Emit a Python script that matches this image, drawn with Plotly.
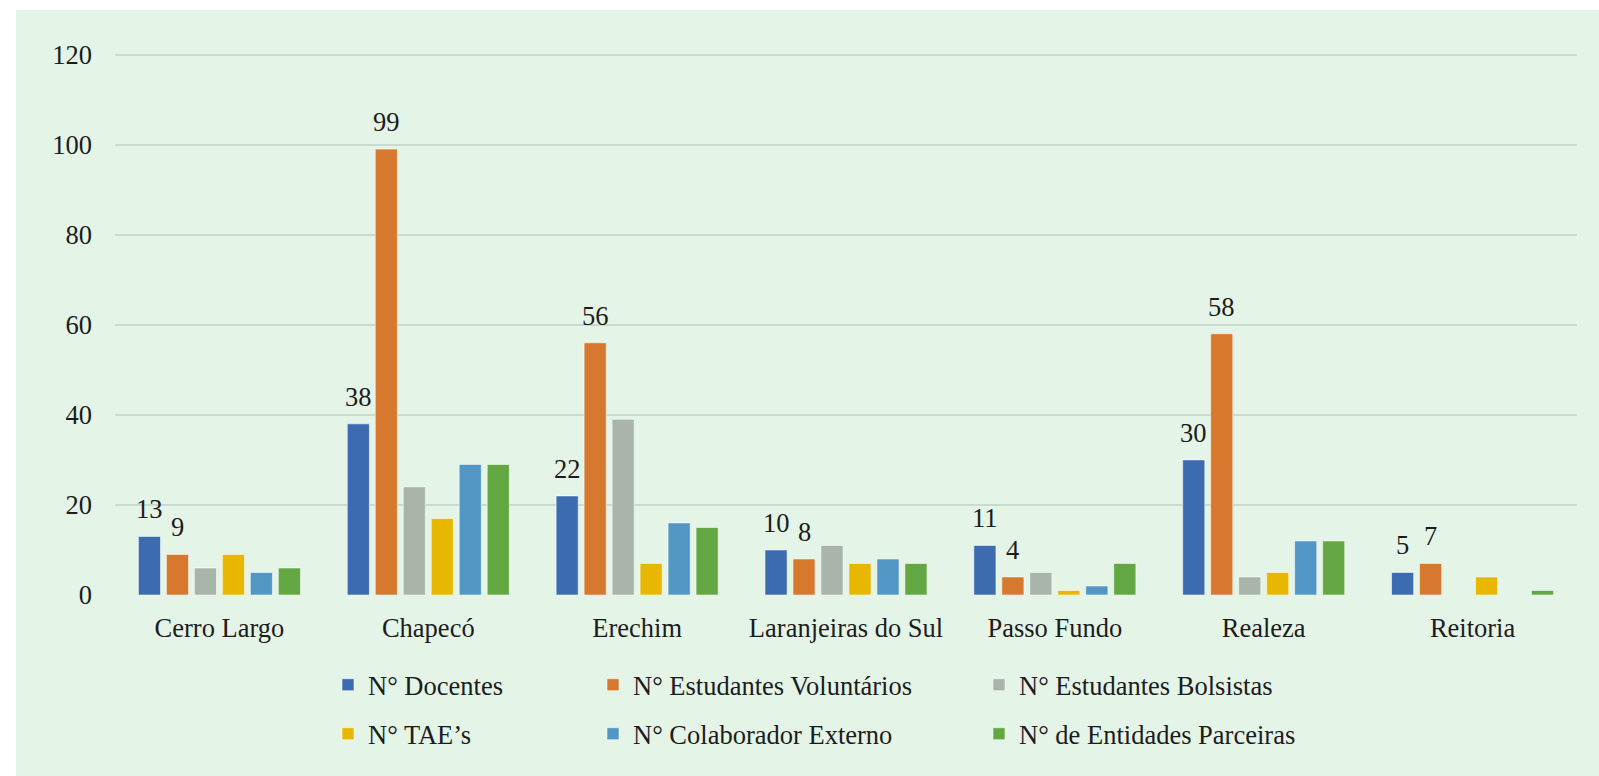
import plotly.graph_objects as go

# campus / unit
categories = ["Cerro Largo", "Chapecó", "Erechim", "Laranjeiras do Sul",
              "Passo Fundo", "Realeza", "Reitoria"]

docentes = [13, 38, 22, 10, 11, 30, 5]
est_voluntarios = [9, 99, 56, 8, 4, 58, 7]
est_bolsistas = [6, 24, 39, 11, 5, 4, 0]
taes = [9, 17, 7, 7, 1, 5, 4]
colab_externo = [5, 29, 16, 8, 2, 12, 0]
entidades = [6, 29, 15, 7, 7, 12, 1]

series_names = ["N° Docentes", "N° Estudantes Voluntários", "N° Estudantes Bolsistas",
                "N° TAE’s", "N° Colaborador Externo", "N° de Entidades Parceiras"]
series_values = [docentes, est_voluntarios, est_bolsistas, taes, colab_externo, entidades]
labelled = [True, True, False, False, False, False]

colors = ["#3D6BB0", "#D6782E", "#A8B5A8", "#E8B800", "#5296C5", "#63A742"]

W, H = 1599, 776
L, R, T, B = 115, 22, 50, 181
FONT = "Liberation Serif, Times New Roman, serif"
FS = 26.5
TXT = "#1c1c1c"
BG = "#E4F4E6"
bargap = 0.196

fig = go.Figure()

legend_names = ["legend", "legend2", "legend3", "legend4", "legend5", "legend6"]
for k, (name, vals) in enumerate(zip(series_names, series_values)):
    fig.add_trace(go.Bar(
        x=categories, y=vals, name=name,
        marker=dict(color=colors[k],
                    line=dict(color="rgba(255,255,255,0.55)",
                              width=[1 if v else 0 for v in vals])),
        legend=legend_names[k],
        hoverinfo="x+y+name",
    ))

# data labels above the first two series
n = len(series_names)
slot = (1 - bargap) / n
annotations = []
for k, vals in enumerate(series_values):
    if not labelled[k]:
        continue
    for i, v in enumerate(vals):
        annotations.append(dict(
            x=i + (k - (n - 1) / 2) * slot, y=v, xref="x", yref="y",
            text=str(v), showarrow=False, yanchor="bottom", yshift=10,
            font=dict(family=FONT, size=FS, color=TXT),
        ))

# legend layout: 3 columns x 2 rows
plot_w = W - L - R
plot_h = H - T - B
col_px = [328, 593, 979]
row_px = [685, 734]
legends = {}
for k in range(n):
    col, row = k % 3, k // 3
    legends[legend_names[k]] = dict(
        x=(col_px[col] - L) / plot_w, xanchor="left",
        y=(H - B - row_px[row]) / plot_h, yanchor="middle",
        orientation="v", bgcolor="rgba(0,0,0,0)",
        font=dict(family=FONT, size=FS, color=TXT),
    )

fig.update_layout(
    width=W, height=H,
    margin=dict(l=L, r=R, t=T, b=B),
    paper_bgcolor="white",
    plot_bgcolor="rgba(0,0,0,0)",
    barmode="group", bargap=bargap, bargroupgap=0.21,
    showlegend=True,
    annotations=annotations,
    font=dict(family=FONT, size=FS, color=TXT),
    shapes=[dict(
        type="rect", xref="paper", yref="paper", layer="below",
        x0=(16 - L) / plot_w, x1=(W - L + 20) / plot_w,
        y0=-(B + 20) / plot_h, y1=(H - B - 10) / plot_h,
        fillcolor=BG, line=dict(width=0),
    )],
    **legends,
)

fig.update_yaxes(
    range=[0, 121], dtick=20, showgrid=True, gridcolor="#CBDACC", gridwidth=2,
    zeroline=False, showline=False, ticks="", ticklabelstandoff=22,
    tickfont=dict(family=FONT, size=FS, color=TXT),
)
fig.update_xaxes(
    showgrid=False, showline=False, ticks="", ticklabelstandoff=14,
    tickfont=dict(family=FONT, size=FS, color=TXT),
)

# drop the default body margin so the figure fills the window
fig.write_html("out.html", config={"displayModeBar": False},
               post_script="document.body.style.margin='0';document.body.style.overflow='hidden';")
